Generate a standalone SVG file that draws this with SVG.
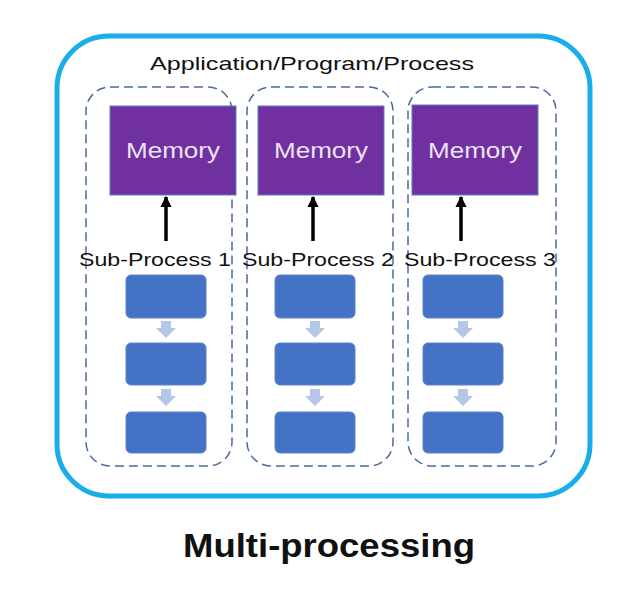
<svg xmlns="http://www.w3.org/2000/svg" width="644" height="600" viewBox="0 0 644 600">
<defs>
<style>
.outer{fill:#fff;stroke:#19ade9;stroke-width:5}
.dash{fill:none;stroke:#4a6aa0;stroke-width:1.5;stroke-dasharray:9 5}
.mem{fill:#7030a0;stroke:#5b7fc0;stroke-width:1}
.memt{font-family:"Liberation Sans",Arial,sans-serif;font-size:22px;fill:#ece4f4;text-anchor:middle}
.lbl{font-family:"Liberation Sans",Arial,sans-serif;font-size:19px;fill:#111;text-anchor:middle}
.blk{fill:#4472c4;stroke:#5a84cc;stroke-width:1}
.sa{fill:#b4c7e7}
.conn{stroke:#000;stroke-width:3.5;fill:none}
</style>
<marker id="ah" viewBox="0 0 10 10" refX="9" refY="5" markerWidth="3.2" markerHeight="3.2" orient="auto" markerUnits="strokeWidth">
<path d="M0,0 L10,5 L0,10 z" fill="#000"/>
</marker>
</defs>
<rect width="644" height="600" fill="#fff"/>
<g id="app">
<rect class="outer" x="57" y="36" width="533" height="460" rx="52"/>
<text x="312" y="70" class="lbl" textLength="324" lengthAdjust="spacingAndGlyphs">Application/Program/Process</text>
</g>
<g id="sp1">
<rect class="dash" x="86" y="87" width="146" height="379" rx="24"/>
<rect class="mem" x="110" y="106" width="126" height="89"/>
<text x="173" y="158" class="memt" textLength="94" lengthAdjust="spacingAndGlyphs">Memory</text>
<text x="155" y="266" class="lbl" textLength="152" lengthAdjust="spacingAndGlyphs">Sub-Process 1</text>
<rect class="blk" x="126" y="275" width="80" height="43" rx="5"/>
<rect class="blk" x="126" y="343" width="80" height="42" rx="5"/>
<rect class="blk" x="126" y="412" width="80" height="41" rx="5"/>
</g>
<g id="sp2">
<rect class="dash" x="247" y="87" width="146" height="379" rx="24"/>
<rect class="mem" x="258" y="106" width="126" height="89"/>
<text x="321" y="158" class="memt" textLength="94" lengthAdjust="spacingAndGlyphs">Memory</text>
<text x="318" y="266" class="lbl" textLength="152" lengthAdjust="spacingAndGlyphs">Sub-Process 2</text>
<rect class="blk" x="275" y="275" width="80" height="43" rx="5"/>
<rect class="blk" x="275" y="343" width="80" height="42" rx="5"/>
<rect class="blk" x="275" y="412" width="80" height="41" rx="5"/>
</g>
<g id="sp3">
<rect class="dash" x="408" y="87" width="148" height="379" rx="24"/>
<rect class="mem" x="412" y="105" width="126" height="90"/>
<text x="475" y="158" class="memt" textLength="94" lengthAdjust="spacingAndGlyphs">Memory</text>
<text x="480" y="266" class="lbl" textLength="152" lengthAdjust="spacingAndGlyphs">Sub-Process 3</text>
<rect class="blk" x="423" y="275" width="80" height="43" rx="5"/>
<rect class="blk" x="423" y="343" width="80" height="42" rx="5"/>
<rect class="blk" x="423" y="412" width="80" height="41" rx="5"/>
</g>
<g id="connectors">
<line class="conn" x1="166" y1="241" x2="166" y2="197" marker-end="url(#ah)"/>
<line class="conn" x1="313" y1="241" x2="313" y2="197" marker-end="url(#ah)"/>
<line class="conn" x1="461" y1="241" x2="461" y2="197" marker-end="url(#ah)"/>
<path class="sa" d="M161,321 h10 v7 h5 l-10,10 l-10,-10 h5 z"/>
<path class="sa" d="M161,389 h10 v7 h5 l-10,10 l-10,-10 h5 z"/>
<path class="sa" d="M310,321 h10 v7 h5 l-10,10 l-10,-10 h5 z"/>
<path class="sa" d="M310,389 h10 v7 h5 l-10,10 l-10,-10 h5 z"/>
<path class="sa" d="M458,321 h10 v7 h5 l-10,10 l-10,-10 h5 z"/>
<path class="sa" d="M458,389 h10 v7 h5 l-10,10 l-10,-10 h5 z"/>
</g>
<text x="329" y="557" font-family="'Liberation Sans',Arial,sans-serif" font-weight="bold" font-size="34" text-anchor="middle" fill="#111" textLength="292" lengthAdjust="spacingAndGlyphs">Multi-processing</text>
</svg>
